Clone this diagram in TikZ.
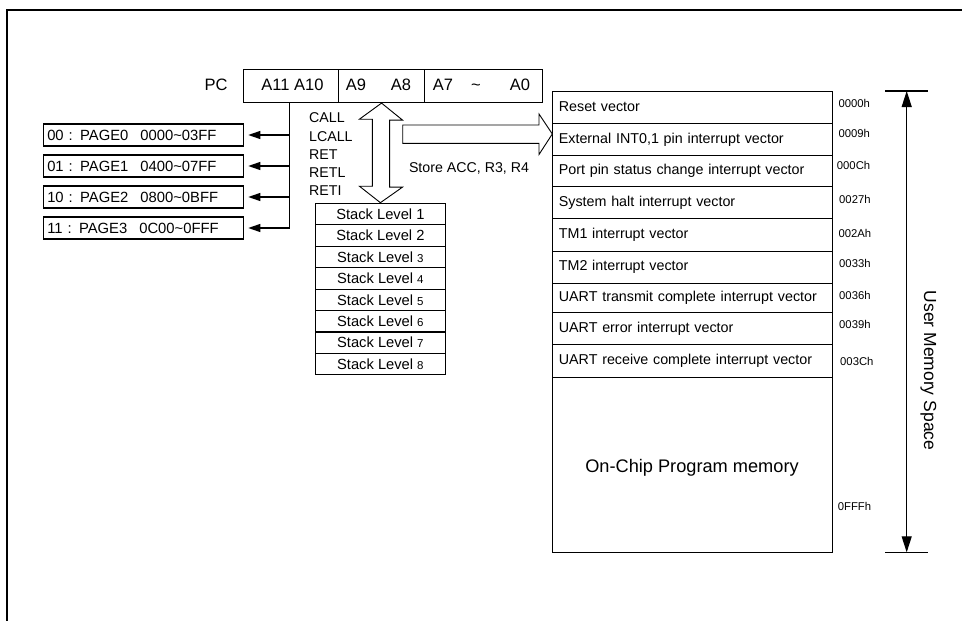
\documentclass[tikz,border=0pt]{standalone}
\usepackage{fontspec}
\setmainfont{Liberation Sans}
\usetikzlibrary{arrows.meta}
\begin{document}
\begin{tikzpicture}[x=1pt,y=-1pt,
  box/.style={draw, line width=1.1pt, inner sep=0pt},
  thin/.style={line width=1.1pt},
  tip/.style={-{Triangle[length=12pt,width=8pt]}},
  pagebox/.style={box, minimum width=200pt, minimum height=22pt, anchor=west, text width=192pt, align=left, font=\fontsize{14.8}{16}\selectfont},
  pccell/.style={box, minimum height=33pt, anchor=north west},
  pctext/.style={inner sep=0pt, font=\fontsize{16.5}{18}\selectfont},
  lbl/.style={inner sep=0pt, font=\fontsize{14.2}{18.25}\selectfont},
  stackrow/.style={box, minimum width=130.7pt, minimum height=21.45pt, anchor=north, font=\fontsize{14.7}{16}\selectfont},
  memrow/.style={box, minimum width=279.4pt, anchor=north west, text width=267.4pt, align=left, text height=10.3pt, text depth=3pt, font=\fontsize{14.3}{16}\selectfont},
  addr/.style={inner sep=0pt, anchor=west, font=\fontsize{11.3}{12}\selectfont},
  hollow/.style={draw, line width=0.9pt, fill=white}
]
\useasboundingbox (0,0) rectangle (962,621);
% frame
\draw[line width=2pt] (7.3,630) -- (7.3,10) -- (970,10);

% PC register
\node[pccell, minimum width=95pt] (c1) at (243,69) {};
\node[pccell, minimum width=86pt] (c2) at (338,69) {};
\node[pccell, minimum width=117.7pt] (c3) at (424,69) {};
\node[pctext] (pc) at (216,85) {PC};
\node[pctext] (a1110) at (292.5,85) {A11 A10};
\node[pctext] (a9) at (356,85) {A9};
\node[pctext] (a8) at (401,85) {A8};
\node[pctext] (a7) at (443,85) {A7};
\node[pctext] (til) at (476,87) {\textasciitilde};
\node[pctext] (a0) at (520,85) {A0};

% page boxes
\node[pagebox] (p0) at (42.7,135) {00 : PAGE0\hspace{12pt}0000\textasciitilde 03FF};
\node[pagebox] (p1) at (42.7,166) {01 : PAGE1\hspace{12pt}0400\textasciitilde 07FF};
\node[pagebox] (p2) at (42.7,197) {10 : PAGE2\hspace{12pt}0800\textasciitilde 0BFF};
\node[pagebox] (p3) at (42.7,228) {11 : PAGE3\hspace{12pt}0C00\textasciitilde 0FFF};
\coordinate (bus) at (289.5,102);
\draw[thin] (bus) -- (bus |- p3.east);
\foreach \p in {p0,p1,p2,p3}
  \draw[thin, tip] (bus |- \p.east) -- ([xshift=4.5pt]\p.east);

% stack
\foreach \i in {1,...,8}{
  \ifnum\i<3
    \node[stackrow] (s\i) at (380.4,{202.7+21.45*(\i-1)}) {Stack Level \i};
  \else
    \node[stackrow] (s\i) at (380.4,{202.7+21.45*(\i-1)}) {Stack Level {\fontsize{11.5}{12}\selectfont\i}};
  \fi
}

% double hollow arrow
\draw[hollow] (c2.south) -- ++(21,17) -- ++(-13,0) -- ++(0,67) -- ++(13,0)
  -- (s1.north) -- ++(-21,-16.5) -- ++(13,0) -- ++(0,-67) -- ++(-13,0) -- cycle;

% instruction labels
\node[lbl, anchor=west, align=left] (ins) at (309,154.5) {CALL\\LCALL\\RET\\RETL\\RETI};
\node[lbl] (store) at (469,168) {Store ACC, R3, R4};

% memory map
\node[memrow, minimum height=32.3pt] (r1) at (552.3,91) {Reset vector};
\node[memrow, minimum height=31.4pt] (r2) at (552.3,123.3) {External INT0,1 pin interrupt vector};
\node[memrow, minimum height=31.3pt] (r3) at (552.3,154.7) {Port pin status change interrupt vector};
\node[memrow, minimum height=32pt] (r4) at (552.3,186) {System halt interrupt vector};
\node[memrow, minimum height=32.7pt] (r5) at (552.3,218) {TM1 interrupt vector};
\node[memrow, minimum height=32pt] (r6) at (552.3,250.7) {TM2 interrupt vector};
\node[memrow, minimum height=29.6pt] (r7) at (552.3,282.7) {UART transmit complete interrupt vector};
\node[memrow, minimum height=32pt] (r8) at (552.3,312.3) {UART error interrupt vector};
\node[memrow, minimum height=32.4pt] (r9) at (552.3,344.3) {UART receive complete interrupt vector};
\node[box, minimum width=279.4pt, minimum height=175.6pt, anchor=north west] (r10) at (552.3,376.7) {};
\node[inner sep=0pt, font=\fontsize{18.2}{20}\selectfont] (ocpm) at (692,467.3) {On-Chip Program memory};

% horizontal hollow arrow
\draw[hollow] (402.7,125) -- (539,125) -- (539,114) -- (r2.west |- 0,134) -- (539,154.5) -- (539,143.3) -- (402.7,143.3) -- cycle;

% addresses
\node[addr] (ad0) at (838.3,103.3) {0000h};
\node[addr] (ad1) at (838.3,133.3) {0009h};
\node[addr] (ad2) at (836.7,165.7) {000Ch};
\node[addr] (ad3) at (839,199.3) {0027h};
\node[addr] (ad4) at (838.3,233.3) {002Ah};
\node[addr] (ad5) at (839,263.3) {0033h};
\node[addr] (ad6) at (839,295) {0036h};
\node[addr] (ad7) at (839,324.3) {0039h};
\node[addr] (ad8) at (840,361) {003Ch};
\node[addr] (ad9) at (837.7,506) {0FFFh};

% dimension
\coordinate (dtop) at (906.7,91);
\coordinate (dbot) at (906.7,552.3);
\draw[thin] ([xshift=-21.7pt]dtop) -- ([xshift=21.6pt]dtop);
\draw[thin] ([xshift=-21.7pt]dbot) -- ([xshift=21.6pt]dbot);
\draw[thin, {Triangle[length=16pt,width=10pt]}-{Triangle[length=16pt,width=10pt]}] (dtop) -- (dbot);
\node[inner sep=0pt, rotate=-90, font=\fontsize{17.5}{20}\selectfont] (ums) at (928.5,370.5) {User Memory Space};
\end{tikzpicture}
\end{document}
